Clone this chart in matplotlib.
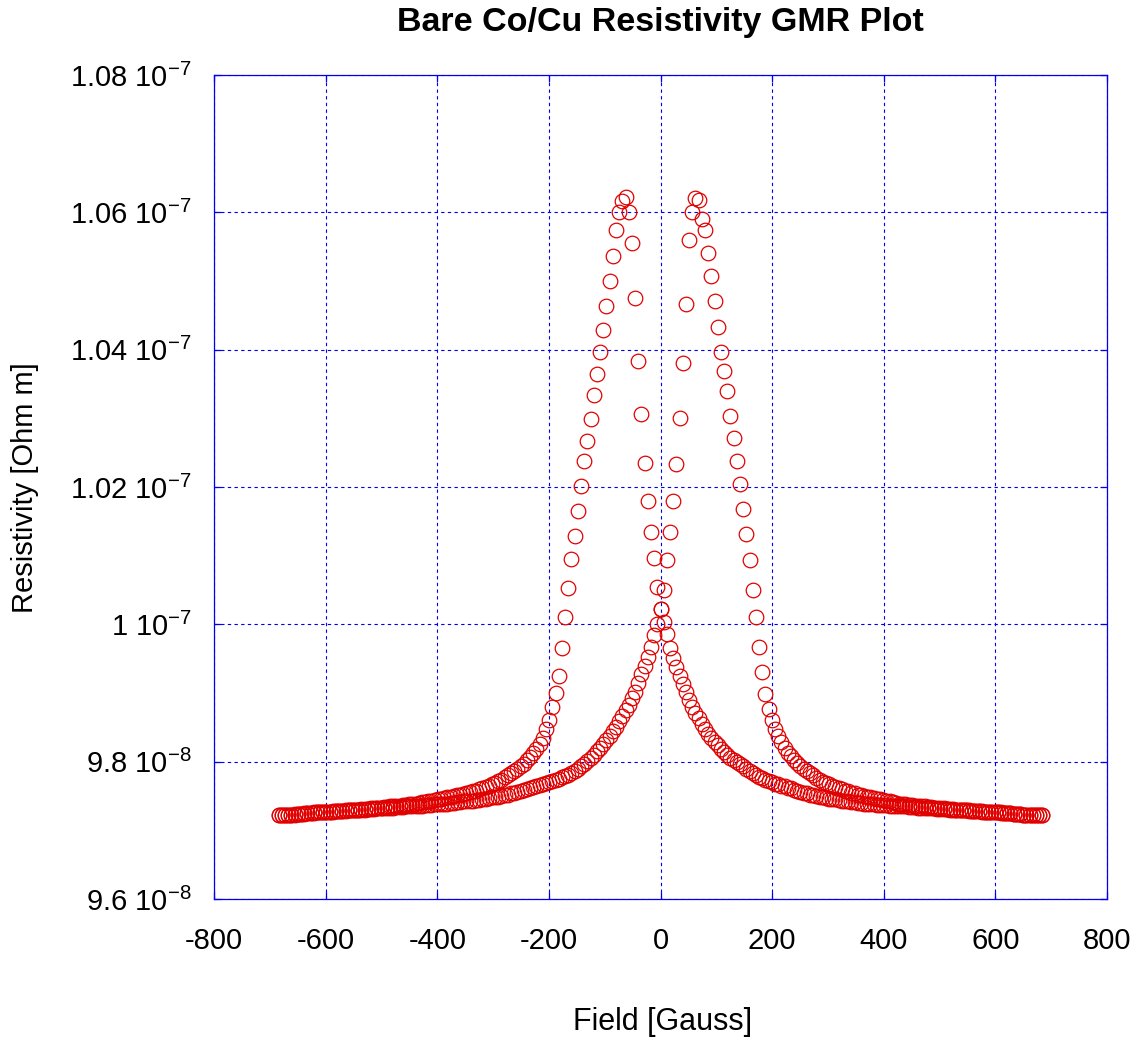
import numpy as np
import matplotlib
matplotlib.use("Agg")
import matplotlib.pyplot as plt

plt.rcParams["font.family"] = ["Liberation Sans", "DejaVu Sans"]
plt.rcParams["mathtext.fontset"] = "custom"
plt.rcParams["mathtext.rm"] = "Liberation Sans"
plt.rcParams["mathtext.it"] = "Liberation Sans:italic"
plt.rcParams["mathtext.bf"] = "Liberation Sans:bold"

# Field sweep: uniform steps from -684 G to +684 G
FIELD_START = -684.0
FIELD_STEP = 5.7
N_POINTS = 241
field_gauss = FIELD_START + FIELD_STEP * np.arange(N_POINTS)

# Resistivity in units of 1e-8 Ohm m, listed in order of increasing field
rho_sweep_down = [
    9.722, 9.722, 9.723, 9.723, 9.723, 9.724, 9.724, 9.724, 9.725, 9.725,
    9.725, 9.726, 9.726, 9.726, 9.727, 9.727, 9.727, 9.728, 9.728, 9.728,
    9.728, 9.729, 9.729, 9.730, 9.730, 9.730, 9.731, 9.731, 9.731, 9.732,
    9.732, 9.733, 9.733, 9.734, 9.734, 9.735, 9.735, 9.736, 9.736, 9.737,
    9.737, 9.738, 9.739, 9.739, 9.740, 9.741, 9.741, 9.742, 9.743, 9.744,
    9.745, 9.746, 9.747, 9.748, 9.749, 9.750, 9.751, 9.752, 9.753, 9.755,
    9.756, 9.757, 9.758, 9.760, 9.761, 9.763, 9.765, 9.767, 9.769, 9.772,
    9.774, 9.777, 9.780, 9.783, 9.786, 9.790, 9.793, 9.797, 9.802, 9.807,
    9.812, 9.819, 9.826, 9.835, 9.847, 9.861, 9.879, 9.900, 9.925, 9.965,
    10.011, 10.053, 10.095, 10.128, 10.165, 10.201, 10.238, 10.267, 10.299, 10.334,
    10.365, 10.396, 10.429, 10.464, 10.500, 10.537, 10.574, 10.600, 10.617, 10.622,
    10.600, 10.555, 10.475, 10.384, 10.306, 10.235, 10.180, 10.135, 10.097, 10.055,
    10.022, 10.003, 9.986, 9.966, 9.951, 9.938, 9.925, 9.913, 9.901, 9.890,
    9.880, 9.871, 9.863, 9.855, 9.848, 9.841, 9.835, 9.829, 9.824, 9.819,
    9.814, 9.810, 9.806, 9.803, 9.799, 9.796, 9.793, 9.789, 9.786, 9.783,
    9.781, 9.778, 9.776, 9.774, 9.772, 9.770, 9.768, 9.767, 9.765, 9.764,
    9.762, 9.761, 9.759, 9.757, 9.756, 9.755, 9.754, 9.752, 9.751, 9.750,
    9.749, 9.748, 9.747, 9.746, 9.745, 9.745, 9.744, 9.743, 9.743, 9.742,
    9.741, 9.741, 9.740, 9.740, 9.739, 9.739, 9.738, 9.738, 9.737, 9.737,
    9.737, 9.737, 9.736, 9.736, 9.736, 9.735, 9.735, 9.735, 9.734, 9.734,
    9.734, 9.733, 9.733, 9.733, 9.732, 9.732, 9.732, 9.731, 9.731, 9.731,
    9.731, 9.730, 9.730, 9.730, 9.729, 9.729, 9.729, 9.728, 9.728, 9.728,
    9.728, 9.727, 9.727, 9.727, 9.726, 9.726, 9.726, 9.725, 9.725, 9.725,
    9.725, 9.724, 9.724, 9.724, 9.723, 9.723, 9.723, 9.722, 9.722, 9.722,
    9.722,
]

rho_sweep_up = [
    9.722, 9.722, 9.722, 9.723, 9.723, 9.723, 9.724, 9.724, 9.724, 9.725,
    9.725, 9.725, 9.726, 9.726, 9.726, 9.727, 9.727, 9.727, 9.728, 9.728,
    9.728, 9.728, 9.729, 9.729, 9.729, 9.730, 9.730, 9.730, 9.731, 9.731,
    9.731, 9.732, 9.732, 9.732, 9.733, 9.733, 9.733, 9.734, 9.734, 9.734,
    9.735, 9.735, 9.735, 9.736, 9.736, 9.736, 9.737, 9.737, 9.737, 9.738,
    9.738, 9.738, 9.739, 9.739, 9.740, 9.740, 9.741, 9.741, 9.742, 9.742,
    9.743, 9.743, 9.744, 9.744, 9.745, 9.746, 9.747, 9.748, 9.749, 9.749,
    9.750, 9.751, 9.752, 9.754, 9.755, 9.756, 9.758, 9.759, 9.760, 9.761,
    9.763, 9.764, 9.766, 9.767, 9.769, 9.771, 9.772, 9.774, 9.775, 9.777,
    9.779, 9.781, 9.783, 9.786, 9.789, 9.793, 9.797, 9.801, 9.805, 9.810,
    9.815, 9.820, 9.826, 9.832, 9.838, 9.844, 9.851, 9.859, 9.867, 9.875,
    9.883, 9.892, 9.902, 9.914, 9.927, 9.939, 9.953, 9.967, 9.984, 10.001,
    10.022, 10.050, 10.093, 10.134, 10.179, 10.234, 10.300, 10.380, 10.467, 10.560,
    10.600, 10.621, 10.618, 10.591, 10.575, 10.541, 10.508, 10.471, 10.433, 10.397,
    10.369, 10.340, 10.303, 10.272, 10.238, 10.205, 10.168, 10.131, 10.093, 10.050,
    10.011, 9.967, 9.930, 9.898, 9.877, 9.861, 9.848, 9.837, 9.828, 9.820,
    9.813, 9.808, 9.803, 9.798, 9.794, 9.790, 9.786, 9.783, 9.780, 9.776,
    9.774, 9.771, 9.769, 9.767, 9.765, 9.763, 9.761, 9.760, 9.758, 9.757,
    9.755, 9.754, 9.752, 9.751, 9.750, 9.749, 9.748, 9.747, 9.746, 9.745,
    9.744, 9.743, 9.742, 9.741, 9.740, 9.739, 9.739, 9.738, 9.737, 9.737,
    9.736, 9.736, 9.735, 9.735, 9.734, 9.734, 9.733, 9.733, 9.732, 9.732,
    9.731, 9.731, 9.731, 9.730, 9.730, 9.729, 9.729, 9.729, 9.728, 9.728,
    9.728, 9.728, 9.727, 9.727, 9.727, 9.726, 9.726, 9.726, 9.725, 9.725,
    9.725, 9.724, 9.724, 9.724, 9.723, 9.723, 9.723, 9.723, 9.722, 9.722,
    9.722,
]

x_ticks = [-800, -600, -400, -200, 0, 200, 400, 600, 800]
x_tick_labels = ["-800", "-600", "-400", "-200", "0", "200", "400", "600", "800"]
y_ticks = [9.6, 9.8, 10.0, 10.2, 10.4, 10.6, 10.8]
y_tick_labels = [r"9.6 10$^{\mathregular{-8}}$", r"9.8 10$^{\mathregular{-8}}$",
                 r"1 10$^{\mathregular{-7}}$", r"1.02 10$^{\mathregular{-7}}$",
                 r"1.04 10$^{\mathregular{-7}}$", r"1.06 10$^{\mathregular{-7}}$",
                 r"1.08 10$^{\mathregular{-7}}$"]

W, H = 1138, 1042
fig = plt.figure(figsize=(W / 100, H / 100), dpi=100)
ax = fig.add_axes([214 / W, 1 - 899 / H, (1107 - 214) / W, (899 - 75) / H])

marker_style = dict(linestyle="none", marker="o", markersize=10.5,
                    markerfacecolor="none", markeredgecolor="#e00000",
                    markeredgewidth=0.9)
ax.plot(field_gauss, rho_sweep_up, **marker_style)
ax.plot(field_gauss, rho_sweep_down, **marker_style)

ax.set_xlim(-800, 800)
ax.set_ylim(9.6, 10.8)
ax.set_xticks(x_ticks)
ax.set_xticklabels(x_tick_labels)
ax.set_yticks(y_ticks)
ax.set_yticklabels(y_tick_labels)

ax.grid(True, color="#0000ee", linestyle=(0, (3, 3)), linewidth=0.8)
ax.set_axisbelow(True)
for sp in ax.spines.values():
    sp.set_color("#0000ee")
    sp.set_linewidth(0.9)
ax.tick_params(direction="in", length=5, width=0.9, color="#0000ee",
               labelsize=21, labelcolor="black", top=True, right=True)
ax.tick_params(axis="x", pad=20)
ax.tick_params(axis="y", pad=16)

fig.text(660 / W, 1 - 22 / H, "Bare Co/Cu Resistivity GMR Plot",
         ha="center", va="center", fontsize=24.5, fontweight="bold")
fig.text(663 / W, 1 - 1022 / H, "Field [Gauss]", ha="center", va="center",
         fontsize=22)
fig.text(25 / W, 1 - 488 / H, "Resistivity [Ohm m]", ha="center",
         va="center", rotation=90, fontsize=21)

fig.savefig("out.png", dpi=100)
